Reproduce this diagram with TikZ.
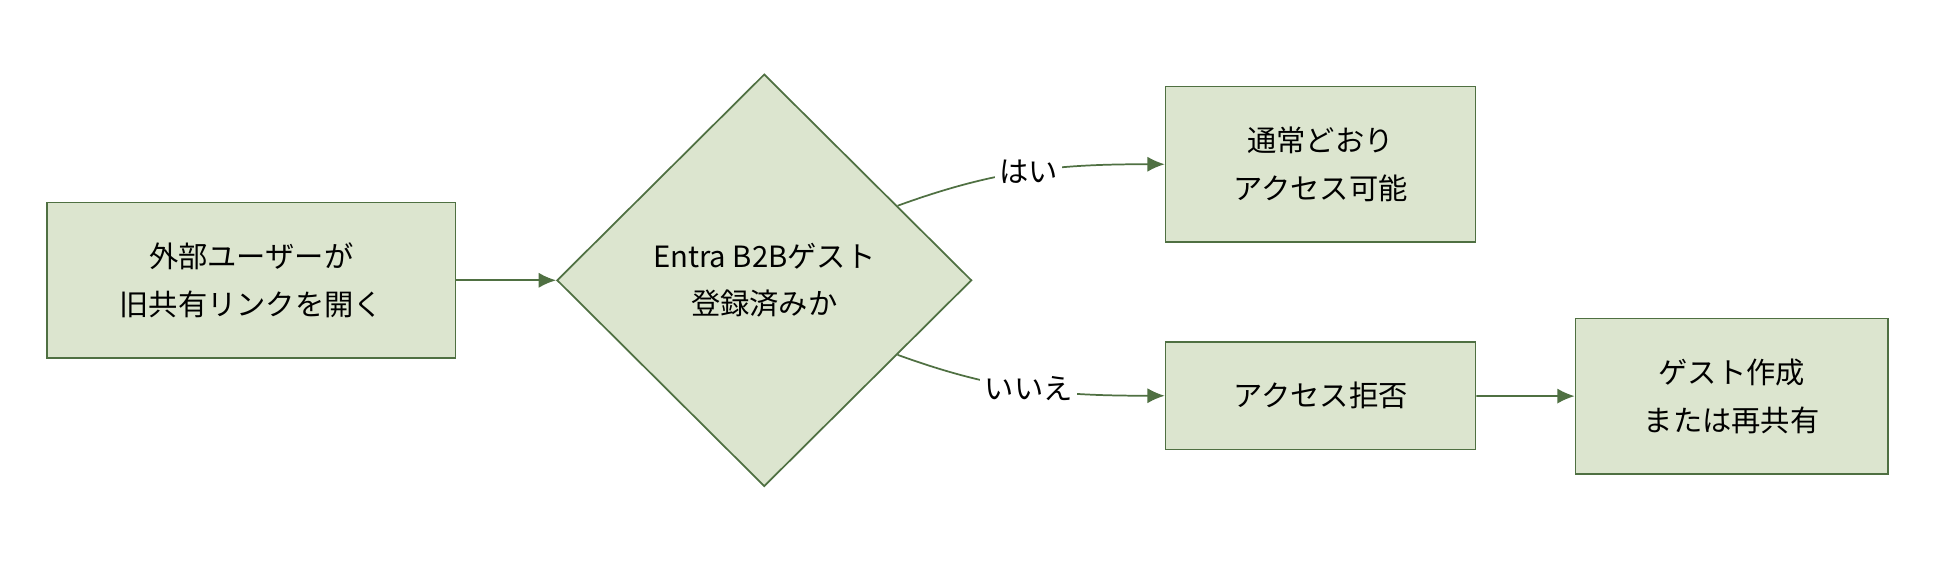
\documentclass[tikz,border=0pt]{standalone}
\usepackage{fontspec}
\setmainfont{Noto Sans CJK JP}
\usetikzlibrary{shapes.geometric,arrows.meta,calc}
\definecolor{boxfill}{HTML}{DCE5CF}
\definecolor{boxline}{HTML}{4F7042}
\begin{document}
\begin{tikzpicture}[x=0.02cm, y=-0.02cm,
    every node/.style={font=\fontsize{13.5}{22}\selectfont, align=center},
    box/.style={draw=boxline, fill=boxfill, thick, inner sep=0pt},
    flow/.style={draw=boxline, thick, -{Latex[length=8pt,width=7pt]}},
    lbl/.style={fill=white, inner sep=2pt}]
    \useasboundingbox (0,0) rectangle (1568,458);
    % nodes
    \node[box, minimum width=6.62cm, minimum height=2.52cm] (open) at (203.5,227) {外部ユーザーが\\旧共有リンクを開く};
    \node[box, diamond, minimum width=6.72cm, minimum height=6.68cm] (check) at (619,227) {Entra B2Bゲスト\\登録済みか};
    \node[box, minimum width=5.02cm, minimum height=2.52cm] (ok) at (1069.5,133) {通常どおり\\アクセス可能};
    \node[box, minimum width=5.02cm, minimum height=1.74cm] (deny) at (1069.5,320.5) {アクセス拒否};
    \node[box, minimum width=5.06cm, minimum height=2.52cm] (fix) at (1402.5,321) {ゲスト作成\\または再共有};
    % start points on the diamond edges
    \coordinate (yes) at ($(check.east)!0.36!(check.north)$);
    \coordinate (no) at ($(check.east)!0.36!(check.south)$);
    % connectors
    \draw[flow] (open) -- (check);
    \draw[flow] (yes) to[out=20,in=180] node[lbl, pos=0.5] {はい} (ok.west);
    \draw[flow] (no) to[out=-20,in=180] node[lbl, pos=0.5] {いいえ} (deny.west);
    \draw[flow] (deny) -- (fix);
\end{tikzpicture}
\end{document}
